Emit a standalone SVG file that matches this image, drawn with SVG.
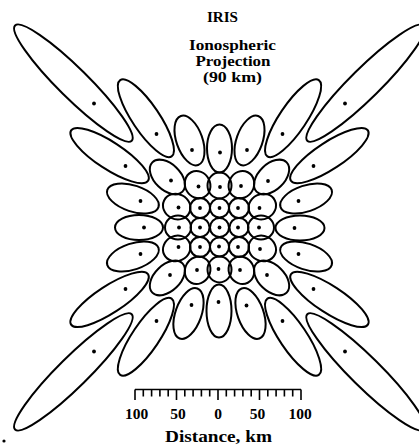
<svg xmlns="http://www.w3.org/2000/svg" width="419" height="447" viewBox="0 0 419 447">
<style>
.b{fill:none;stroke:#000;stroke-width:2}
.d{fill:#000}
.t{font-family:"Liberation Serif","DejaVu Serif",serif;font-weight:bold;fill:#000;text-anchor:middle}
.s{stroke:#000;stroke-width:1.6;fill:none}
</style>
<rect width="419" height="447" fill="#fff"/>
<g id="title">
<text class="t" x="222.5" y="21.5" font-size="14.5" textLength="31" lengthAdjust="spacingAndGlyphs">IRIS</text>
<text class="t" x="232.5" y="50" font-size="14" textLength="87" lengthAdjust="spacingAndGlyphs">Ionospheric</text>
<text class="t" x="233" y="66" font-size="14" textLength="75" lengthAdjust="spacingAndGlyphs">Projection</text>
<text class="t" x="232.5" y="81.5" font-size="14" textLength="59" lengthAdjust="spacingAndGlyphs">(90 km)</text>
</g>
<g id="beams">
<ellipse class="b" cx="0" cy="0" rx="82" ry="15" transform="translate(73.4,83.1) rotate(44.66)"/>
<ellipse class="b" cx="0" cy="0" rx="82" ry="15" transform="translate(365.6,83.1) rotate(-44.66)"/>
<ellipse class="b" cx="0" cy="0" rx="82" ry="15" transform="translate(73.4,371.9) rotate(-44.66)"/>
<ellipse class="b" cx="0" cy="0" rx="82" ry="15" transform="translate(365.6,371.9) rotate(44.66)"/>
<ellipse class="b" cx="0" cy="0" rx="46" ry="13.5" transform="translate(109.6,155.6) rotate(33.2)"/>
<ellipse class="b" cx="0" cy="0" rx="46" ry="13.5" transform="translate(329.4,155.6) rotate(-33.2)"/>
<ellipse class="b" cx="0" cy="0" rx="46" ry="13.5" transform="translate(109.6,299.4) rotate(-33.2)"/>
<ellipse class="b" cx="0" cy="0" rx="46" ry="13.5" transform="translate(329.4,299.4) rotate(33.2)"/>
<ellipse class="b" cx="0" cy="0" rx="46" ry="13.5" transform="translate(145.9,118.2) rotate(56.02)"/>
<ellipse class="b" cx="0" cy="0" rx="46" ry="13.5" transform="translate(293.1,118.2) rotate(-56.02)"/>
<ellipse class="b" cx="0" cy="0" rx="46" ry="13.5" transform="translate(145.9,336.8) rotate(-56.02)"/>
<ellipse class="b" cx="0" cy="0" rx="46" ry="13.5" transform="translate(293.1,336.8) rotate(56.02)"/>
<ellipse class="b" cx="0" cy="0" rx="27" ry="13" transform="translate(132.9,198.5) rotate(18.54)"/>
<ellipse class="b" cx="0" cy="0" rx="27" ry="13" transform="translate(306.1,198.5) rotate(-18.54)"/>
<ellipse class="b" cx="0" cy="0" rx="27" ry="13" transform="translate(132.9,256.5) rotate(-18.54)"/>
<ellipse class="b" cx="0" cy="0" rx="27" ry="13" transform="translate(306.1,256.5) rotate(18.54)"/>
<ellipse class="b" cx="0" cy="0" rx="26" ry="13" transform="translate(189.5,140.5) rotate(70.46)"/>
<ellipse class="b" cx="0" cy="0" rx="26" ry="13" transform="translate(249.5,140.5) rotate(-70.46)"/>
<ellipse class="b" cx="0" cy="0" rx="26.5" ry="13" transform="translate(188.5,313.5) rotate(-70.46)"/>
<ellipse class="b" cx="0" cy="0" rx="26.5" ry="13" transform="translate(250.5,313.5) rotate(70.46)"/>
<ellipse class="b" cx="139" cy="227.5" rx="24" ry="12.5"/>
<ellipse class="b" cx="300" cy="228" rx="24.5" ry="12.5"/>
<ellipse class="b" cx="219.5" cy="148.5" rx="12.5" ry="24"/>
<ellipse class="b" cx="219" cy="311" rx="12.5" ry="26.5"/>
<ellipse class="b" cx="0" cy="0" rx="21" ry="13" transform="translate(167.4,177) rotate(44.1)"/>
<ellipse class="b" cx="0" cy="0" rx="21" ry="13" transform="translate(271.6,177) rotate(-44.1)"/>
<ellipse class="b" cx="0" cy="0" rx="21" ry="13" transform="translate(167.4,278) rotate(-44.1)"/>
<ellipse class="b" cx="0" cy="0" rx="21" ry="13" transform="translate(271.6,278) rotate(44.1)"/>
<ellipse class="b" cx="0" cy="0" rx="14" ry="12.5" transform="translate(176.7,206.6) rotate(26)"/>
<ellipse class="b" cx="0" cy="0" rx="14" ry="12.5" transform="translate(262.3,206.6) rotate(-26)"/>
<ellipse class="b" cx="0" cy="0" rx="14" ry="12.5" transform="translate(176.7,248.4) rotate(-26)"/>
<ellipse class="b" cx="0" cy="0" rx="14" ry="12.5" transform="translate(262.3,248.4) rotate(26)"/>
<ellipse class="b" cx="0" cy="0" rx="14" ry="12.5" transform="translate(197.6,184.7) rotate(62.9)"/>
<ellipse class="b" cx="0" cy="0" rx="14" ry="12.5" transform="translate(241.4,184.7) rotate(-62.9)"/>
<ellipse class="b" cx="0" cy="0" rx="14" ry="12.5" transform="translate(197.6,270.3) rotate(-62.9)"/>
<ellipse class="b" cx="0" cy="0" rx="14" ry="12.5" transform="translate(241.4,270.3) rotate(62.9)"/>
<ellipse class="b" cx="178" cy="227.5" rx="13" ry="12"/>
<ellipse class="b" cx="261" cy="227.5" rx="13" ry="12"/>
<ellipse class="b" cx="219.5" cy="185.5" rx="12" ry="13"/>
<ellipse class="b" cx="219.5" cy="269.5" rx="12" ry="13"/>
<circle class="b" cx="200" cy="208" r="10"/>
<circle class="b" cx="239" cy="208" r="10"/>
<circle class="b" cx="200" cy="247" r="10"/>
<circle class="b" cx="239" cy="247" r="10"/>
<circle class="b" cx="200" cy="227.5" r="9.5"/>
<circle class="b" cx="239" cy="227.5" r="9.5"/>
<circle class="b" cx="219.5" cy="208" r="9.5"/>
<circle class="b" cx="219.5" cy="247" r="9.5"/>
<circle class="b" cx="219.5" cy="227.5" r="9.5"/>
</g>
<g id="dots" class="d">
<circle cx="94" cy="103.5" r="1.9"/><circle cx="345" cy="103.5" r="1.9"/><circle cx="94" cy="351.5" r="1.9"/><circle cx="345" cy="351.5" r="1.9"/>
<circle cx="125.5" cy="166" r="1.9"/><circle cx="313.5" cy="166" r="1.9"/><circle cx="125.5" cy="289" r="1.9"/><circle cx="313.5" cy="289" r="1.9"/>
<circle cx="156.5" cy="134" r="1.9"/><circle cx="282.5" cy="134" r="1.9"/><circle cx="156.5" cy="321" r="1.9"/><circle cx="282.5" cy="321" r="1.9"/>
<circle cx="140.5" cy="201" r="1.9"/><circle cx="298.5" cy="201" r="1.9"/><circle cx="140.5" cy="254" r="1.9"/><circle cx="298.5" cy="254" r="1.9"/>
<circle cx="192" cy="150" r="1.9"/><circle cx="247" cy="150" r="1.9"/><circle cx="191.5" cy="305" r="1.9"/><circle cx="246.5" cy="305.5" r="1.9"/>
<circle cx="144" cy="227.5" r="1.9"/><circle cx="294.5" cy="228" r="1.9"/><circle cx="220" cy="152.5" r="1.9"/><circle cx="218.5" cy="302" r="1.9"/>
<circle cx="171" cy="180.5" r="1.9"/><circle cx="268" cy="181" r="1.9"/><circle cx="170" cy="275" r="1.9"/><circle cx="267" cy="275" r="1.9"/>
<circle cx="178.5" cy="207.5" r="1.9"/><circle cx="259.5" cy="208" r="1.9"/><circle cx="178.5" cy="247" r="1.9"/><circle cx="260" cy="249" r="1.9"/>
<circle cx="198.5" cy="186.5" r="1.9"/><circle cx="241" cy="186" r="1.9"/><circle cx="197" cy="270" r="1.9"/><circle cx="240" cy="270" r="1.9"/>
<circle cx="179" cy="227.5" r="1.9"/><circle cx="259" cy="227.5" r="1.9"/><circle cx="220" cy="187" r="1.9"/><circle cx="218.5" cy="269" r="1.9"/>
<circle cx="200" cy="208" r="1.9"/><circle cx="238" cy="208" r="1.9"/><circle cx="200" cy="247" r="1.9"/><circle cx="238" cy="247" r="1.9"/>
<circle cx="200" cy="227.5" r="1.9"/><circle cx="238" cy="227.5" r="1.9"/><circle cx="219.5" cy="208" r="1.9"/><circle cx="219" cy="246.5" r="1.9"/>
<circle cx="219.5" cy="227.5" r="1.9"/>
<circle cx="4" cy="441" r="1.6"/>
</g>
<g id="scale">
<path class="s" d="M135,389.5H301 M135,389.5V400 M176.5,389.5V400 M218,389.5V400 M259.5,389.5V400 M301,389.5V400
M143.3,389.5V396.5 M151.6,389.5V396.5 M159.9,389.5V396.5 M168.2,389.5V396.5
M184.8,389.5V396.5 M193.1,389.5V396.5 M201.4,389.5V396.5 M209.7,389.5V396.5
M226.3,389.5V396.5 M234.6,389.5V396.5 M242.9,389.5V396.5 M251.2,389.5V396.5
M267.8,389.5V396.5 M276.1,389.5V396.5 M284.4,389.5V396.5 M292.7,389.5V396.5"/>
<text class="t" x="136.7" y="419" font-size="15.5">100</text>
<text class="t" x="178" y="419" font-size="15.5">50</text>
<text class="t" x="218" y="419" font-size="15.5">0</text>
<text class="t" x="257.5" y="419" font-size="15.5">50</text>
<text class="t" x="300" y="419" font-size="15.5">100</text>
<text class="t" x="218.5" y="441.5" font-size="16" textLength="107" lengthAdjust="spacingAndGlyphs">Distance, km</text>
</g>
</svg>
